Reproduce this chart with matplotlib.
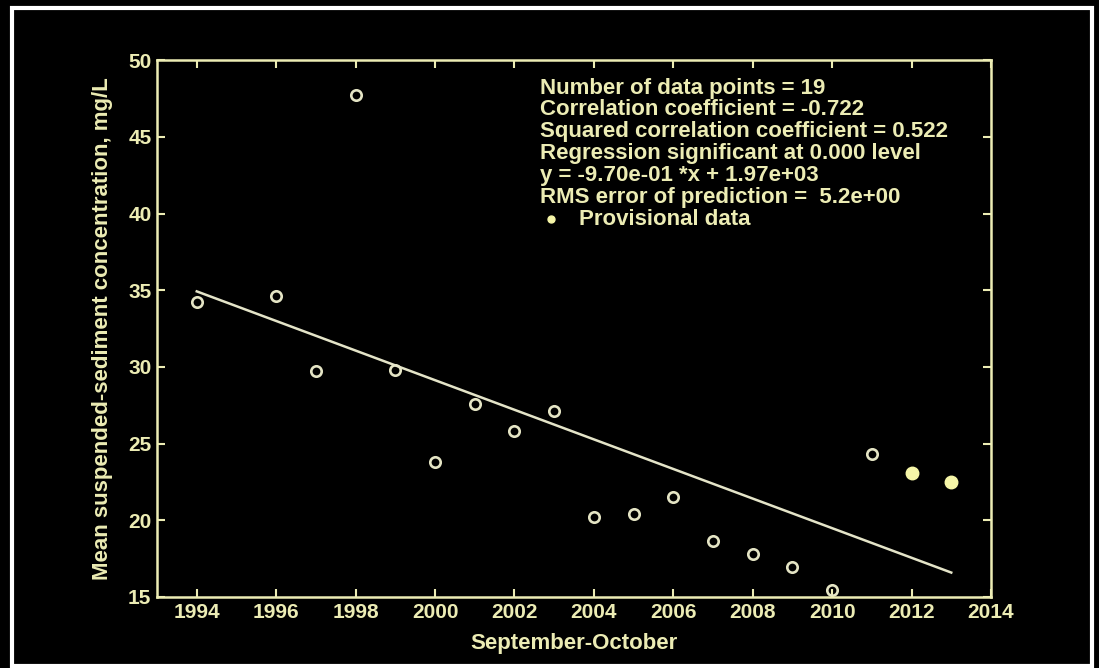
import numpy as np
import matplotlib
matplotlib.use("Agg")
import matplotlib.pyplot as plt
from matplotlib.patches import Rectangle

# data
years = [1994, 1996, 1997, 1998, 1999, 2000, 2001, 2002, 2003, 2004,
         2005, 2006, 2007, 2008, 2009, 2010, 2011]
conc = [34.2, 34.6, 29.75, 47.7, 29.8, 23.8, 27.6, 25.8, 27.1, 20.2,
        20.4, 21.5, 18.65, 17.8, 16.95, 15.45, 24.3]
prov_years = [2012, 2013]
prov_conc = [23.1, 22.5]

stats_lines = [
    "Number of data points = 19",
    "Correlation coefficient = -0.722",
    "Squared correlation coefficient = 0.522",
    "Regression significant at 0.000 level",
    "y = -9.70e-01 *x + 1.97e+03",
    "RMS error of prediction =  5.2e+00",
]

fg = "#ececb4"
plt.rcParams['font.family'] = ['Liberation Sans', 'DejaVu Sans']
plt.rcParams['font.weight'] = 'bold'

fig = plt.figure(figsize=(10.99, 6.68), dpi=100, facecolor="black")
ax = fig.add_axes([0.1429, 0.1063, 0.7588, 0.8037], facecolor="black")

# white frame around the figure
fig.patches.append(Rectangle((12 / 1099, 2 / 668), 1080 / 1099, 658 / 668,
                             transform=fig.transFigure, fill=False,
                             edgecolor="white", linewidth=3))

ax.plot(years, conc, linestyle="none", marker="o", markersize=7.5,
        markerfacecolor="none", markeredgecolor="#e4e4c4", markeredgewidth=1.9)
ax.plot(prov_years, prov_conc, linestyle="none", marker="o", markersize=9,
        markerfacecolor="#f6f6a8", markeredgecolor="#f6f6a8")

# regression line through all points
all_x = np.array(years + prov_years, dtype=float)
all_y = np.array(conc + prov_conc)
slope, icpt = np.polyfit(all_x, all_y, 1)
xl = np.array([all_x.min(), all_x.max()])
ax.plot(xl, slope * xl + icpt, color="#e4e4c8", linewidth=1.8)

ax.set_xlim(1993, 2014)
ax.set_ylim(15, 50)
ax.set_xticks(range(1994, 2015, 2))
ax.set_yticks(range(15, 51, 5))
for s in ax.spines.values():
    s.set_color(fg)
    s.set_linewidth(1.8)
ax.tick_params(direction="in", length=6, width=1.5, color=fg, labelcolor=fg,
               labelsize=15, top=True, right=True, pad=4)
for lab in ax.get_xticklabels() + ax.get_yticklabels():
    lab.set_fontweight("bold")

ax.set_xlabel("September-October", color=fg, fontsize=16, fontweight="bold",
              labelpad=8)
ax.set_ylabel("Mean suspended-sediment concentration, mg/L", color=fg,
              fontsize=16, fontweight="bold", labelpad=11)

# stats text block
y0 = 0.948
dy = 0.0408
for i, line in enumerate(stats_lines):
    ax.text(0.459, y0 - i * dy, line, transform=ax.transAxes, color=fg,
            fontsize=16, fontweight="bold", va="center", ha="left")
ax.plot([0.472], [y0 - 6 * dy], transform=ax.transAxes, marker="o",
        markersize=5, color="#f6f6a8", linestyle="none", clip_on=False)
ax.text(0.506, y0 - 6 * dy, "Provisional data", transform=ax.transAxes,
        color=fg, fontsize=16, fontweight="bold", va="center", ha="left")

fig.savefig("out.png", dpi=100, facecolor="black")
